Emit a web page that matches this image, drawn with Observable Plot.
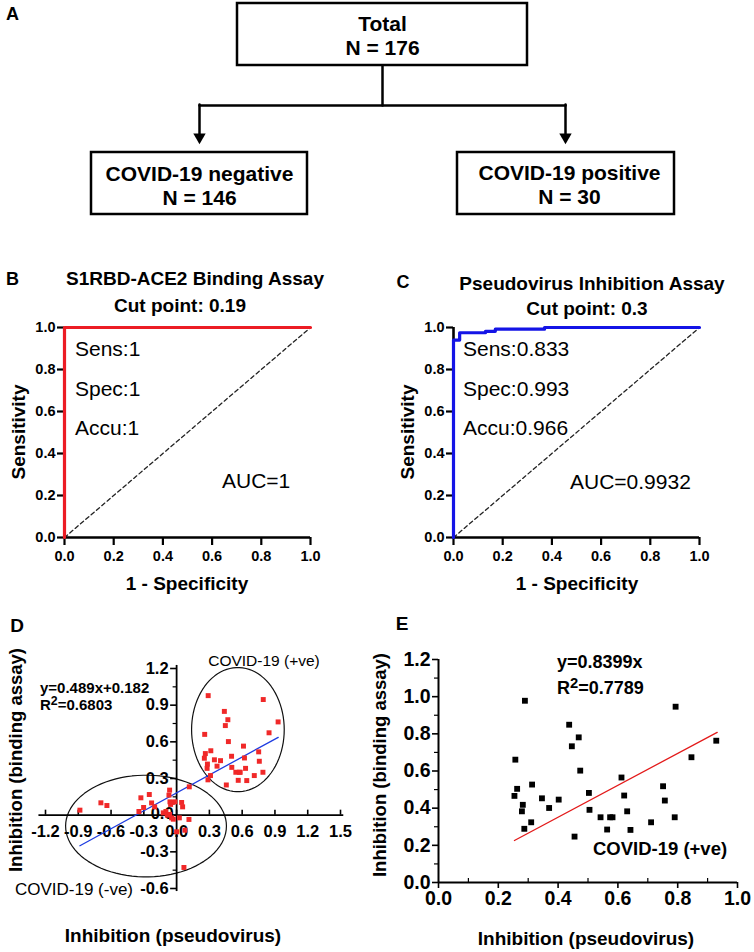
<!DOCTYPE html>
<html><head><meta charset="utf-8">
<script src="https://cdn.jsdelivr.net/npm/d3@7"></script>
<script src="https://cdn.jsdelivr.net/npm/@observablehq/plot@0.6"></script>
<style>
body{margin:0;background:#fff;}
#fig{position:relative;width:754px;height:952px;overflow:hidden;background:#fff;font-family:"Liberation Sans",Arial,Helvetica,sans-serif;color:#000;}
.t{position:absolute;white-space:nowrap;line-height:1;color:#000;}
</style></head><body><div id="fig"></div>
<script>
// ---------------- DATA ----------------
const flowLabels = ["Total", "COVID-19 negative", "COVID-19 positive"];
const flowN = [176, 146, 30];

const rocTicks = [0, 0.2, 0.4, 0.6, 0.8, 1.0];
const diagX = [0, 1], diagY = [0, 1];
const rocBX = [0, 0, 1];
const rocBY = [0, 1, 1];
const rocCX = [0, 0, 0.025, 0.025, 0.13, 0.13, 0.17, 0.17, 0.37, 0.37, 1];
const rocCY = [0, 0.94, 0.94, 0.975, 0.975, 0.982, 0.982, 0.992, 0.992, 1, 1];
const statsB = ["Sens:1", "Spec:1", "Accu:1"], aucB = "AUC=1";
const statsC = ["Sens:0.833", "Spec:0.993", "Accu:0.966"], aucC = "AUC=0.9932";

// COVID-19 positive samples (pseudovirus inhibition, binding inhibition)
const posX = [0.254,0.257,0.263,0.282,0.279,0.287,0.289,0.310,0.313,0.346,0.370,0.402,0.437,0.446,0.469,0.474,0.455,0.503,0.505,0.542,0.564,0.574,0.582,0.612,0.621,0.631,0.642,0.711,0.751,0.757,0.790,0.793,0.846,0.929];
const posY = [0.466,0.661,0.504,0.418,0.383,0.289,0.978,0.324,0.527,0.453,0.401,0.446,0.849,0.733,0.781,0.602,0.247,0.482,0.391,0.351,0.285,0.351,0.351,0.565,0.468,0.383,0.283,0.324,0.518,0.441,0.351,0.946,0.674,0.763];
// COVID-19 negative samples
const negX = [-0.885,-0.693,-0.638,-0.327,-0.25,-0.229,-0.201,-0.302,-0.345,-0.064,-0.07,-0.061,-0.039,-0.016,-0.055,0.046,0.055,-0.122,-0.098,-0.085,-0.064,-0.046,-0.030,0.025,0.113,0.0,0.076,0.067,0.116];
const negY = [0.041,0.101,0.079,0.142,0.169,0.10,0.068,0.063,0.030,0.205,0.164,0.109,0.104,0.109,0.088,0.104,0.068,0.019,0.03,0.0,0.006,-0.022,-0.033,-0.022,-0.035,-0.136,-0.123,-0.428,0.232];

const regDX = [-0.885, 0.93], regDY = [-0.25, 0.637];
const regEX = [0.254, 0.932], regEY = [0.226, 0.808];

const dXTicks = [-1.2,-0.9,-0.6,-0.3,0,0.3,0.6,0.9,1.2,1.5];
const dXLabels = ["-1.2","-0.9","-0.6","-0.3","0.0","0.3","0.6","0.9","1.2","1.5"];
const dYTicks = [1.2,0.9,0.6,0.3,0,-0.3,-0.6];
const dYLabels = ["1.2","0.9","0.6","0.3","0.0","-0.3","-0.6"];
const dYMinor = [1.05,0.75,0.45,0.15,-0.15,-0.45];

const eXTicks = [0,0.2,0.4,0.6,0.8,1.0];
const eXMinor = [0.1,0.3,0.5,0.7,0.9];
const eYTicks = [0,0.2,0.4,0.6,0.8,1.0,1.2];
const eYMinor = [0.1,0.3,0.5,0.7,0.9,1.1];

// ellipses around the two groups (centre / radii in data units)
const ellCX = [0.561, -0.28], ellCY = [0.70, -0.089], ellRX = [0.424, 0.736], ellRY = [0.508, 0.416];

// ---------------- HELPERS ----------------
const FONT = '"Liberation Sans", Arial, Helvetica, sans-serif';
const fig = document.getElementById("fig");
function place(svg, left, top) {
  svg.style.position = "absolute"; svg.style.left = left + "px"; svg.style.top = top + "px";
  svg.style.maxWidth = "none"; svg.style.background = "transparent"; svg.style.overflow = "visible";
  fig.appendChild(svg);
}
function txt(html, x, y, o = {}) {
  const d = document.createElement("div");
  d.className = "t";
  d.innerHTML = html;
  d.style.left = x + "px"; d.style.top = y + "px";
  d.style.fontSize = (o.size || 16) + "px";
  d.style.fontWeight = o.weight || "bold";
  const tx = o.anchor === "start" ? "0" : o.anchor === "end" ? "-100%" : "-50%";
  d.style.transform = `translate(${tx},-50%)` + (o.rotate ? ` rotate(${o.rotate}deg)` : "");
  fig.appendChild(d);
}
const sup2 = '<span style="position:relative;top:-0.38em;font-size:0.82em">2</span>';

// ---------------- PANEL A (flowchart) ----------------
{
  const boxes = [
    {x1: 237, x2: 527, y1: 3, y2: 65, cx: 382, cy: 34.5},
    {x1: 91, x2: 307, y1: 152, y2: 214, cx: 199, cy: 185},
    {x1: 457, x2: 674, y1: 152, y2: 214, cx: 569, cy: 184}
  ];
  const nodes = boxes.map((b, i) => ({...b, label: `${flowLabels[i]}\nN = ${flowN[i]}`}));
  const svg = Plot.plot({
    width: 754, height: 225, margin: 0,
    x: {domain: [0, 754], range: [0, 754], axis: null},
    y: {domain: [0, 225], range: [0, 225], axis: null},
    style: {fontFamily: FONT, background: "transparent"},
    marks: [
      Plot.rect(nodes, {x1: "x1", x2: "x2", y1: "y1", y2: "y2", fill: "none", stroke: "#000", strokeWidth: 2.5}),
      Plot.line([[382, 65], [382, 105]], {stroke: "#000", strokeWidth: 2.5}),
      Plot.line([[199, 105], [565, 105]], {stroke: "#000", strokeWidth: 2.5}),
      Plot.line([[199, 104], [199, 134]], {stroke: "#000", strokeWidth: 2.5}),
      Plot.line([[565, 104], [565, 134]], {stroke: "#000", strokeWidth: 2.5}),
      Plot.dot([[199, 136.5], [565, 136.5]], {x: d => d[0], y: d => d[1], symbol: "triangle", r: 4.6, fill: "#000", rotate: 180, stroke: "none"}),
      Plot.text(nodes.slice(0, 1), {x: "cx", y: "cy", text: "label", fontFamily: FONT, fontSize: 21, fontWeight: "bold", lineHeight: 1.19, fill: "#000"}),
      Plot.text(nodes.slice(1), {x: "cx", y: "cy", text: "label", fontFamily: FONT, fontSize: 21, fontWeight: "bold", lineHeight: 1.14, fill: "#000"})
    ]
  });
  place(svg, 0, 0);
}

// ---------------- PANELS B, C (ROC) ----------------
function rocPlot(xs, ys, color, marginLeft, width) {
  const pts = xs.map((x, i) => ({x, y: ys[i]}));
  const diag = diagX.map((x, i) => ({x, y: diagY[i]}));
  const tf = {fontFamily: FONT, fontSize: 14.5, fontWeight: "bold", fill: "#000"};
  return Plot.plot({
    width, height: 300, marginLeft, marginRight: width - marginLeft - 246, marginTop: 27, marginBottom: 63,
    x: {domain: [0, 1]}, y: {domain: [0, 1]},
    style: {fontFamily: FONT, fontWeight: "bold", color: "#000", background: "transparent"},
    marks: [
      Plot.line(diag, {x: "x", y: "y", stroke: "#222", strokeWidth: 1.3, strokeDasharray: "4,3"}),
      Plot.ruleY([0], {stroke: "#000", strokeWidth: 2.6}),
      Plot.ruleX([0], {stroke: "#000", strokeWidth: 2.6}),
      Plot.axisX(rocTicks, {tickSize: 8, tickPadding: 5, tickFormat: d3.format(".1f"), strokeWidth: 2.2, label: null, ...tf}),
      Plot.axisY(rocTicks, {tickSize: 7, tickPadding: 2, tickFormat: d3.format(".1f"), strokeWidth: 2.2, label: null, ...tf}),
      Plot.line(pts, {x: "x", y: "y", stroke: color, strokeWidth: 3.2})
    ]
  });
}
place(rocPlot(rocBX, rocBY, "#ec1c24", 64, 377), 0, 300);
place(rocPlot(rocCX, rocCY, "#1414e6", 76, 377), 377, 300);

// ---------------- PANEL D ----------------
{
  const sx = 109.3, sy = 122.2;
  const pos = posX.map((x, i) => ({x, y: posY[i]}));
  const neg = negX.map((x, i) => ({x, y: negY[i]}));
  const angles = d3.range(0, 361, 4);
  const ell = ellCX.flatMap((cx, k) => angles.map(a => ({k,
    x: cx + ellRX[k] * Math.cos(a * Math.PI / 180),
    y: ellCY[k] + ellRY[k] * Math.sin(a * Math.PI / 180)})));
  const reg = regDX.map((x, i) => ({x, y: regDY[i]}));
  const tf = {fontFamily: FONT, fontSize: 16.5, fontWeight: "bold", fill: "#000"};
  const svg = Plot.plot({
    width: 377, height: 270, marginLeft: 45, marginRight: 37, marginTop: 28, marginBottom: 22,
    x: {domain: [-1.2, 1.5], axis: null}, y: {domain: [-0.6, 1.2], axis: null},
    style: {fontFamily: FONT, color: "#000", background: "transparent", overflow: "visible"},
    marks: [
      Plot.line(ell, {x: "x", y: "y", z: "k", stroke: "#111", strokeWidth: 1.2}),
      Plot.ruleY([0], {x1: -1.26, x2: 1.53, stroke: "#000", strokeWidth: 1.8}),
      Plot.ruleX([0], {y1: -0.625, y2: 1.225, stroke: "#000", strokeWidth: 1.8}),
      Plot.ruleX(dXTicks, {x: d => d, y1: 0, y2: 5 / sy, stroke: "#000", strokeWidth: 1.6}),
      Plot.ruleY(dYTicks, {y: d => d, x1: -6 / sx, x2: 0, stroke: "#000", strokeWidth: 1.6}),
      Plot.ruleY(dYMinor, {y: d => d, x1: -3.5 / sx, x2: 0, stroke: "#000", strokeWidth: 1.2}),
      Plot.text(dXTicks, {x: d => d, y: 0, dy: 17, text: (d, i) => dXLabels[i], ...tf}),
      Plot.text(dYTicks, {filter: d => d !== 0, x: 0, y: d => d, dx: -8, textAnchor: "end", text: (d, i) => dYLabels[i], ...tf}),
      Plot.text(dYTicks, {filter: d => d === 0, x: 0, y: d => d, dx: -3, dy: -1, textAnchor: "end", text: (d, i) => dYLabels[i], ...tf}),
      Plot.line(reg, {x: "x", y: "y", stroke: "#1e3ce0", strokeWidth: 1.3}),
      Plot.dot(neg, {x: "x", y: "y", symbol: "square", r: 2.8, fill: "#f02828", stroke: "none"}),
      Plot.dot(pos, {x: "x", y: "y", symbol: "square", r: 2.8, fill: "#f02828", stroke: "none"})
    ]
  });
  place(svg, 0, 640);
}

// ---------------- PANEL E ----------------
{
  const sx = 299, sy = 186;
  const pos = posX.map((x, i) => ({x, y: posY[i]}));
  const reg = regEX.map((x, i) => ({x, y: regEY[i]}));
  const tf = {fontFamily: FONT, fontSize: 19.5, fontWeight: "bold", fill: "#000"};
  const svg = Plot.plot({
    width: 377, height: 300, marginLeft: 61, marginRight: 17, marginTop: 19, marginBottom: 58,
    x: {domain: [0, 1]}, y: {domain: [0, 1.2]},
    style: {fontFamily: FONT, color: "#000", background: "transparent"},
    marks: [
      Plot.ruleY([0], {stroke: "#000", strokeWidth: 2}),
      Plot.ruleX([0], {stroke: "#000", strokeWidth: 2}),
      Plot.axisX(eXTicks, {tickSize: 6, tickPadding: 3, tickFormat: d3.format(".1f"), strokeWidth: 1.6, label: null, ...tf}),
      Plot.axisY(eYTicks, {tickSize: 6, tickPadding: 2, tickFormat: d3.format(".1f"), strokeWidth: 1.6, label: null, ...tf}),
      Plot.ruleX(eXMinor, {x: d => d, y1: 0, y2: 4 / sy, stroke: "#000", strokeWidth: 1.2}),
      Plot.ruleY(eYMinor, {y: d => d, x1: -4 / sx, x2: 0, stroke: "#000", strokeWidth: 1.2}),
      Plot.line(reg, {x: "x", y: "y", stroke: "#e31a1a", strokeWidth: 1.3}),
      Plot.dot(pos, {x: "x", y: "y", symbol: "square", r: 3.3, fill: "#000", stroke: "none"})
    ]
  });
  place(svg, 377, 640);
}

// ---------------- TEXT ----------------
txt("A", 12.5, 14, {size: 18});
txt("B", 12.5, 278.5, {size: 18});
txt("C", 403, 282, {size: 18});
txt("D", 17, 625, {size: 19});
txt("E", 402, 623, {size: 19});

txt("S1RBD-ACE2 Binding Assay", 195, 278, {size: 19});
txt("Cut point: 0.19", 180, 305, {size: 19});
txt("Pseudovirus Inhibition Assay", 592, 283, {size: 19});
txt("Cut point: 0.3", 587, 308, {size: 19});

const statY = [348, 388, 427];
statsB.forEach((s, i) => txt(s, 75, statY[i], {size: 21, weight: "normal", anchor: "start"}));
txt(aucB, 222, 480, {size: 21, weight: "normal", anchor: "start"});
statsC.forEach((s, i) => txt(s, 463, statY[i], {size: 21, weight: "normal", anchor: "start"}));
txt(aucC, 570, 481, {size: 21, weight: "normal", anchor: "start"});

txt("1 - Specificity", 187, 583, {size: 19});
txt("Sensitivity", 18, 432, {size: 19, rotate: -90});
txt("1 - Specificity", 577, 583, {size: 19});
txt("Sensitivity", 407, 432, {size: 19, rotate: -90});

txt("y=0.489x+0.182", 40, 687, {size: 15, anchor: "start"});
txt("R" + sup2 + "=0.6803", 40, 705, {size: 15, anchor: "start"});
txt("COVID-19 (+ve)", 264, 661, {size: 15.5, weight: "normal"});
txt("COVID-19 (-ve)", 74, 889, {size: 17, weight: "normal"});
txt("Inhibition (pseudovirus)", 173, 935, {size: 19});
txt("Inhibition (binding assay)", 16, 760, {size: 18.5, rotate: -90});

txt("y=0.8399x", 557, 662, {size: 18, anchor: "start"});
txt("R" + sup2 + "=0.7789", 557, 688, {size: 18, anchor: "start"});
txt("COVID-19 (+ve)", 660, 849, {size: 18.5});
txt("Inhibition (pseudovirus)", 586, 938, {size: 19});
txt("Inhibition (binding assay)", 380, 765, {size: 18.5, rotate: -90});
</script>
</body></html>
